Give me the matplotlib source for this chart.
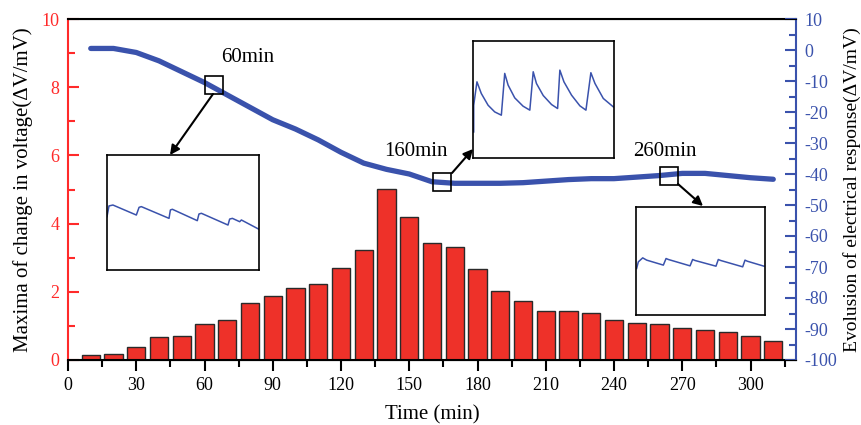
import numpy as np
import matplotlib
matplotlib.use("Agg")
import matplotlib.pyplot as plt
from matplotlib.patches import Rectangle

plt.rcParams['font.family'] = ['Liberation Serif', 'DejaVu Serif']
plt.rcParams['axes.unicode_minus'] = False

# time points (min)
times = [10, 20, 30, 40, 50, 60, 70, 80, 90, 100, 110, 120, 130, 140, 150, 160,
         170, 180, 190, 200, 210, 220, 230, 240, 250, 260, 270, 280, 290, 300, 310]

# maxima of change in voltage (left axis, bars)
maxima = [0.14, 0.18, 0.38, 0.68, 0.70, 1.05, 1.17, 1.67, 1.89, 2.12, 2.24, 2.71,
          3.22, 5.01, 4.19, 3.42, 3.32, 2.66, 2.02, 1.73, 1.44, 1.44, 1.39, 1.16,
          1.08, 1.07, 0.93, 0.88, 0.81, 0.70, 0.55]

# evolution of electrical response (right axis, line)
response = [0.5, 0.5, -0.8, -3.5, -7.0, -10.5, -14.5, -18.5, -22.5, -25.5, -29.0,
            -33.0, -36.5, -38.5, -40.0, -42.5, -43.0, -43.0, -43.0, -42.8, -42.3,
            -41.8, -41.5, -41.5, -41.0, -40.5, -39.8, -39.8, -40.5, -41.2, -41.7]

# marked moments: label, time, response at marker
marks = ["60min", "160min", "260min"]
mark_t = [64, 164.5, 264]
mark_v = [-11.3, -42.7, -40.5]

# inset traces (normalised x, y inside each inset)
trace60_x = [0, 0.013, 0.039, 0.193, 0.211, 0.226, 0.408, 0.417, 0.430, 0.594,
             0.605, 0.621, 0.796, 0.807, 0.825, 0.873, 0.884, 1.0]
trace60_y = [0.464, 0.557, 0.565, 0.478, 0.545, 0.551, 0.449, 0.522, 0.528, 0.429,
             0.487, 0.493, 0.391, 0.443, 0.449, 0.420, 0.435, 0.354]
trace160_x = [0.005, 0.005, 0.028, 0.059, 0.107, 0.154, 0.201, 0.225, 0.249, 0.296,
              0.355, 0.403, 0.427, 0.450, 0.498, 0.557, 0.600, 0.616, 0.645, 0.699,
              0.758, 0.801, 0.836, 0.865, 0.924, 0.995]
trace160_y = [0.223, 0.451, 0.651, 0.551, 0.451, 0.394, 0.366, 0.723, 0.623, 0.514,
              0.443, 0.409, 0.737, 0.637, 0.534, 0.457, 0.423, 0.751, 0.651, 0.537,
              0.446, 0.409, 0.729, 0.637, 0.509, 0.437]
trace260_x = [0.005, 0.018, 0.052, 0.083, 0.212, 0.233, 0.251, 0.419, 0.439, 0.457,
              0.620, 0.638, 0.656, 0.827, 0.845, 0.863, 0.992]
trace260_y = [0.431, 0.492, 0.529, 0.508, 0.462, 0.523, 0.514, 0.455, 0.514, 0.505,
              0.452, 0.514, 0.505, 0.446, 0.508, 0.498, 0.452]

red = '#ff2a2a'
blue = '#3a52ac'
bar_red = '#ee3129'

fig = plt.figure(figsize=(8.62, 4.25), dpi=100)
ax = fig.add_axes([68/862, 1-360/425, (796-68)/862, (360-19)/425])
ax2 = ax.twinx()

ax.bar(times, maxima, width=8, color=bar_red, edgecolor='#2a2a2a', linewidth=1, zorder=2)
ax.set_xlim(0, 320)
ax.set_ylim(0, 10)
ax.set_xticks(np.arange(0, 301, 30))
ax.set_xticks(np.arange(15, 320, 30), minor=True)
ax.set_yticks(np.arange(0, 11, 2))
ax.set_yticks(np.arange(1, 10, 2), minor=True)
ax.tick_params(axis='x', direction='out', length=8, width=1.5, labelsize=13, pad=4)
ax.tick_params(axis='x', which='minor', direction='out', length=5, width=1.5)
ax.tick_params(axis='y', which='both', direction='in', colors=red, labelsize=13, width=1.5, pad=6)
ax.tick_params(axis='y', which='major', length=8)
ax.tick_params(axis='y', which='minor', length=5)
ax.spines['left'].set_color(red)
ax.spines['right'].set_visible(False)
for s in ['left', 'bottom', 'top']:
    ax.spines[s].set_linewidth(1.5)
ax.set_xlabel("Time (min)", fontsize=15, labelpad=8)
ax.set_ylabel("Maxima of change in voltage(ΔV/mV)", fontsize=15, labelpad=6)

ax2.plot(times, response, color=blue, linewidth=3.8, solid_capstyle='round', zorder=3)
ax2.set_ylim(-100, 10)
ax2.set_yticks(np.arange(-100, 11, 10))
ax2.set_yticks(np.arange(-95, 10, 10), minor=True)
ax2.tick_params(axis='y', which='both', direction='in', colors=blue, labelsize=13, width=1.5, pad=6)
ax2.tick_params(axis='y', which='major', length=8)
ax2.tick_params(axis='y', which='minor', length=5)
ax2.spines['right'].set_color(blue)
ax2.spines['right'].set_linewidth(1.5)
ax2.spines['left'].set_visible(False)
ax2.set_ylabel("Evolusion of electrical response(ΔV/mV)", fontsize=14, labelpad=4)

# marker boxes on the curve
for t, v in zip(mark_t, mark_v):
    ax2.add_patch(Rectangle((t - 3.95, v - 2.9), 7.9, 5.8, fill=False,
                            edgecolor='black', linewidth=1.2, zorder=4))

# labels above markers (figure fraction)
label_pos = [(248/862, 1-58/425), (416/862, 1-152/425), (665/862, 1-152/425)]
for txt, (px, py) in zip(marks, label_pos):
    fig.text(px, py, txt, fontsize=15, ha='center', va='center')

# arrows from markers to insets
arrows = [((213, 94), (170, 155)), ((452, 173), (473, 149)), ((678, 184), (703, 206))]
for (x0, y0), (x1, y1) in arrows:
    ax.annotate('', xy=(x1/862, 1-y1/425), xycoords='figure fraction',
                xytext=(x0/862, 1-y0/425), textcoords='figure fraction',
                arrowprops=dict(arrowstyle='-|>', color='black', lw=1.5,
                                mutation_scale=14, shrinkA=0, shrinkB=0))

# inset boxes
insets = [((107, 155, 259, 270), trace60_x, trace60_y),
          ((473, 41, 614, 158), trace160_x, trace160_y),
          ((636, 207, 765, 315), trace260_x, trace260_y)]
for (x0, y0, x1, y1), tx, ty in insets:
    ia = fig.add_axes([x0/862, 1-y1/425, (x1-x0)/862, (y1-y0)/425])
    ia.plot(tx, ty, color=blue, linewidth=1.1)
    ia.set_xlim(0, 1)
    ia.set_ylim(0, 1)
    ia.set_xticks([])
    ia.set_yticks([])
    for s in ia.spines.values():
        s.set_linewidth(1.2)

fig.savefig("out.png", dpi=100)
